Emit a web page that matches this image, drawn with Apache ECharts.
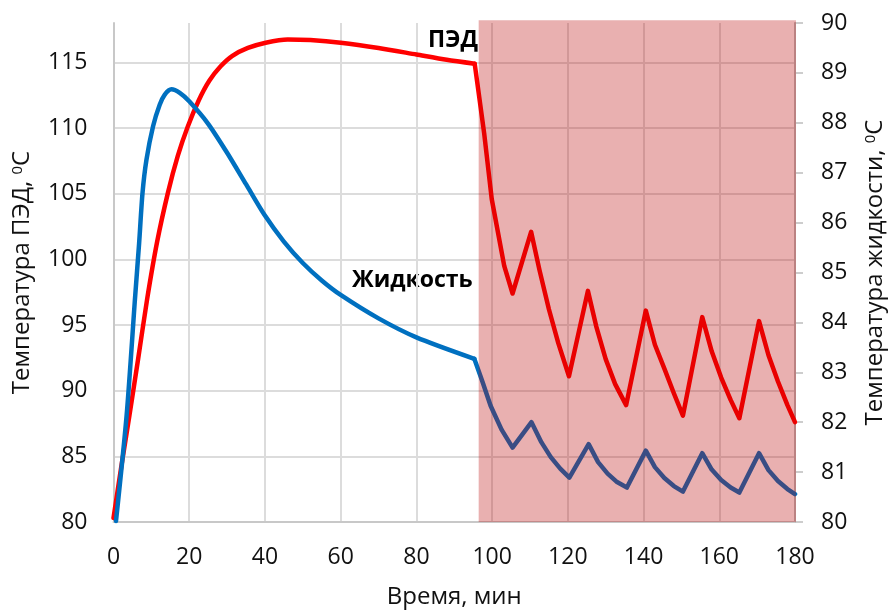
<!DOCTYPE html>
<html>
<head>
<meta charset="utf-8">
<script src="https://cdn.jsdelivr.net/npm/echarts@6/dist/echarts.min.js"></script>
<style>
  html, body { margin: 0; padding: 0; background: #fff; }
  #main { width: 895px; height: 614px; }
</style>
</head>
<body>
<div id="main"></div>
<script>
// ПЭД (левая ось): нагрев до 96 мин, затем циклы
var pedTime1 = [0, 2, 4.2, 6.5, 8.9, 11.5, 14.4, 17, 19.6, 22.5, 25.3, 28.3, 31.4, 35.5, 40.2, 46, 52, 60, 70, 80, 88, 95.4];
var pedTemp1 = [80.3, 84.1, 88.1, 92.4, 97.0, 101.3, 105.1, 107.9, 110.1, 112.1, 113.6, 114.7, 115.5, 116.1, 116.5, 116.75, 116.7, 116.5, 116.1, 115.6, 115.2, 114.9];
var pedTime2 = [95.4, 97.9, 99.9, 103.2, 105.4, 110.3, 112.5, 115, 117.5, 120.3, 125.3, 127.5, 130, 132.5, 135.4,
  140.6, 143, 145.6, 148, 150.4, 155.5, 158, 160.5, 163, 165.3, 170.5, 173, 175.5, 178, 180];
var pedTemp2 = [114.9, 109.6, 104.6, 99.5, 97.4, 102.1, 99.2, 96.2, 93.6, 91.1, 97.6, 94.9, 92.4, 90.5, 88.9,
  96.1, 93.5, 91.6, 89.8, 88.1, 95.6, 93.0, 91.0, 89.3, 87.9, 95.3, 92.7, 90.7, 88.9, 87.6];

// Жидкость (правая ось)
var liqTime1 = [0.66, 3.46, 5.7, 6.77, 7.66, 8.71, 10.45, 12.2, 13.5, 15.3, 17.5, 20, 25, 30, 35, 40, 45, 50, 55, 60, 70, 80, 95.3];
var liqTemp1 = [80.02, 82.13, 84.5, 85.59, 86.59, 87.26, 87.93, 88.36, 88.56, 88.67, 88.6, 88.43, 87.98, 87.4, 86.77, 86.14, 85.62, 85.19, 84.84, 84.55, 84.08, 83.7, 83.27];
var liqTime2 = [95.3, 97.5, 99.6, 102.5, 105.4, 110.4, 113, 115.5, 118, 120.4, 125.5, 128, 130.5, 133, 135.6,
  140.6, 143, 145.5, 148, 150.4, 155.5, 158, 160.5, 163, 165.3, 170.5, 173, 175.5, 178, 180];
var liqTemp2 = [83.27, 82.8, 82.33, 81.85, 81.49, 82.0, 81.6, 81.3, 81.07, 80.89, 81.56, 81.2, 80.97, 80.8, 80.69,
  81.43, 81.1, 80.88, 80.72, 80.61, 81.38, 81.05, 80.84, 80.69, 80.59, 81.38, 81.04, 80.82, 80.66, 80.56];

// Затенённая зона (время, мин)
var zoneTime = [96.45, 182];
var zoneTop = 118.2;

var xTicks = { min: 0, max: 180, step: 20 };
var leftTicks = { min: 80, max: 118, step: 5 };
var rightTicks = { min: 80, max: 90, step: 1 };

function pairs(xs, ys) {
  var out = [];
  for (var i = 0; i < xs.length; i++) out.push([xs[i], ys[i]]);
  return out;
}

var FONT = '"Open Sans", "Noto Sans", sans-serif';
var RED = '#FF0000', BLUE = '#0070C0';
var chart = echarts.init(document.getElementById('main'));

function curve(data, axis, color, smooth) {
  return {
    type: 'line',
    yAxisIndex: axis,
    data: data,
    smooth: smooth,
    symbol: 'none',
    lineStyle: { color: color, width: 4.5, cap: 'round', join: 'round' },
    z: 3
  };
}

var option = {
  animation: false,
  backgroundColor: '#fff',
  textStyle: { fontFamily: FONT },
  grid: { left: 113.5, right: 93.5, top: 23, bottom: 91 },
  xAxis: {
    type: 'value',
    min: xTicks.min, max: xTicks.max, interval: xTicks.step,
    name: 'Время, мин',
    nameLocation: 'middle',
    nameGap: 63,
    nameTextStyle: { fontSize: 24, color: '#111', fontFamily: FONT },
    axisLine: { show: true, lineStyle: { color: '#C8C8C8', width: 2 } },
    axisTick: { show: false },
    axisLabel: { fontSize: 23, color: '#111', margin: 24, fontFamily: FONT },
    splitLine: { show: true, lineStyle: { color: '#DCDCDC', width: 2 } }
  },
  yAxis: [{
    type: 'value',
    position: 'left',
    min: leftTicks.min, max: leftTicks.max, interval: leftTicks.step,
    name: 'Температура ПЭД, {sup|0}C',
    nameLocation: 'middle',
    nameGap: 79,
    nameTextStyle: {
      fontSize: 24, color: '#111', fontFamily: FONT,
      rich: { sup: { fontSize: 15, verticalAlign: 'top', color: '#111', fontFamily: FONT } }
    },
    axisLine: { show: true, lineStyle: { color: '#C8C8C8', width: 2 } },
    axisTick: { show: false },
    axisLabel: { fontSize: 23, color: '#111', margin: 26, showMaxLabel: false, fontFamily: FONT },
    splitLine: { show: true, showMaxLine: false, lineStyle: { color: '#DCDCDC', width: 2 } }
  }, {
    type: 'value',
    position: 'right',
    min: rightTicks.min, max: rightTicks.max, interval: rightTicks.step,
    name: 'Температура жидкости, {sup|0}C',
    nameLocation: 'middle',
    nameGap: 68,
    nameTextStyle: {
      fontSize: 24, color: '#111', fontFamily: FONT,
      rich: { sup: { fontSize: 15, verticalAlign: 'top', color: '#111', fontFamily: FONT } }
    },
    axisLine: { show: true, lineStyle: { color: '#BDBDBD', width: 2 } },
    axisTick: { show: true, inside: false, length: 8, lineStyle: { color: '#BDBDBD', width: 1.5 } },
    axisLabel: { fontSize: 23, color: '#111', margin: 26, fontFamily: FONT },
    splitLine: { show: false }
  }],
  graphic: [
    { type: 'text', left: 428, top: 29, style: { text: 'ПЭД', font: 'bold 23px ' + FONT, fill: '#000' } },
    { type: 'text', left: 352, top: 269, style: { text: 'Жидкость', font: 'bold 23px ' + FONT, fill: '#000' } }
  ],
  series: [
    curve(pairs(pedTime1, pedTemp1), 0, RED, 0.25),
    curve(pairs(pedTime2, pedTemp2), 0, RED, false),
    curve(pairs(liqTime1, liqTemp1), 1, BLUE, 0.25),
    curve(pairs(liqTime2, liqTemp2), 1, BLUE, false),
    {
      type: 'line',
      yAxisIndex: 0,
      data: pairs(zoneTime, [zoneTop, zoneTop]),
      symbol: 'none',
      clip: false,
      silent: true,
      lineStyle: { width: 0 },
      areaStyle: { color: 'rgb(184,0,0)', opacity: 0.31, origin: 'start' },
      z: 10
    }
  ]
};

chart.setOption(option);
</script>
</body>
</html>
